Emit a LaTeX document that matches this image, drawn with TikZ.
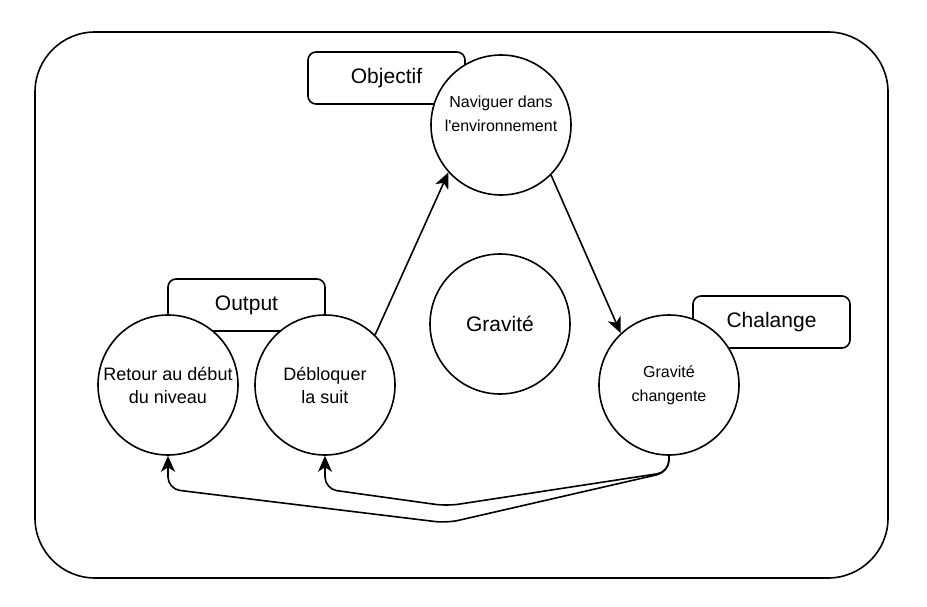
\documentclass[tikz,border=0pt]{standalone}
\usepackage{fontspec}
\setmainfont{Liberation Sans}[Ligatures=TeXOff]
\usetikzlibrary{arrows.meta}
\newcommand{\grand}{\fontsize{21}{25}\selectfont}
\newcommand{\moyen}{\fontsize{18}{23}\selectfont}
\newcommand{\petit}{\fontsize{16}{24}\selectfont}
\begin{document}
\begin{tikzpicture}[x=1pt,y=-1pt,line width=1.6pt,
  >={Stealth[length=16pt,width=14pt,inset=4.5pt]},
  etat/.style={draw,circle,fill=white,minimum size=140pt,inner sep=0pt,align=center},
  etiquette/.style={draw,fill=white,rounded corners=8pt,minimum width=157pt,minimum height=52pt,inner sep=0pt,font=\grand}]
\useasboundingbox (0,0) rectangle (927,607);
\draw[rounded corners=60pt] (35,32) rectangle (888,578);

\node[etiquette] (objectif) at (386.5,78) {Objectif};
\node[etiquette] (output) at (246.5,305) {Output};
\node[etiquette] (chalange) at (771.5,322) {Chalange};

\node[etat] (nav) at (501,125) {};
\node[font=\petit,align=center] (navtexte) at (501,114) {Naviguer dans\\l'environnement};
\node[etat,font=\grand] (gravite) at (500,324) {Gravit\'e};
\node[etat,font=\moyen] (retour) at (168,385) {Retour au d\'ebut\\du niveau};
\node[etat,font=\moyen] (debloquer) at (325,385) {D\'ebloquer\\la suit};
\node[etat,font=\petit] (changente) at (669,385) {Gravit\'e\\changente};

\draw[->] (debloquer.45) -- (nav.222);
\draw[->] (nav.-45) -- (changente.133);

\coordinate (coude) at (669,472);
\draw[->,rounded corners=12pt] (changente.south) -- (coude) -- (447,506) -- (325,489) -- (debloquer.south);
\draw[->,rounded corners=12pt] (changente.south) -- (coude) -- (447,523) -- (168,489) -- (retour.south);
\end{tikzpicture}
\end{document}
